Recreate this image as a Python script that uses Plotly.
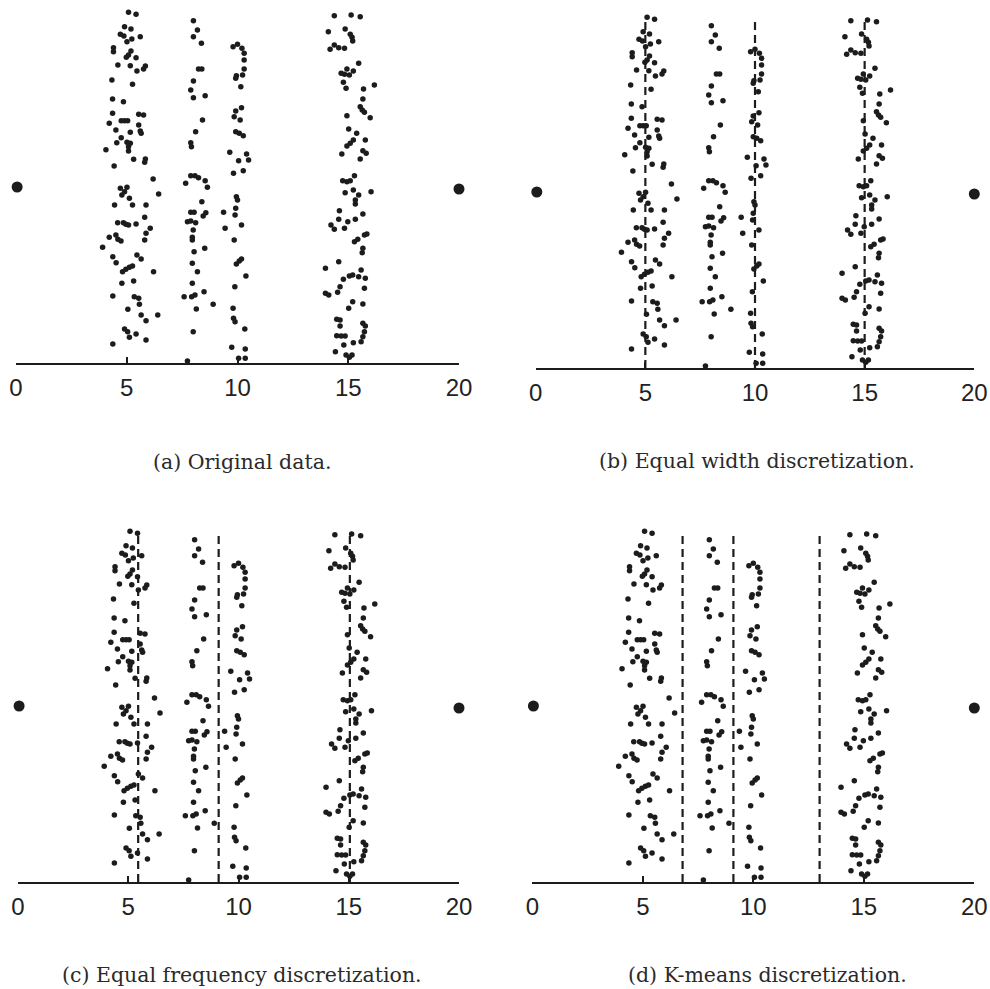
import plotly.graph_objects as go

# ---- data (x in axis units 0..20, y = arbitrary vertical jitter 0..35) ----
c5_x = [5.08,5.42,4.90,5.19,4.71,4.87,5.23,5.61,5.01,4.40,4.40,5.19,5.08,4.98,5.42,4.60,5.16,5.84,5.76,5.46,
        4.33,5.26,4.36,4.85,4.36,5.54,5.76,4.21,4.75,4.90,5.04,5.54,4.51,5.16,5.61,5.65,4.75,4.55,5.01,5.16,
        5.08,5.08,4.06,5.31,5.84,5.81,4.43,6.19,4.71,5.01,4.90,4.78,5.12,6.44,4.45,5.26,5.87,5.81,4.59,4.85,
        4.96,5.08,5.42,6.06,5.87,5.81,4.21,4.51,4.60,4.74,3.91,4.37,4.52,5.46,5.65,4.81,4.96,5.12,5.26,6.21,
        4.78,5.31,4.37,5.34,5.54,5.57,5.05,5.65,5.87,6.40,4.90,5.04,5.12,5.42,5.87,4.37]
c5_y = [35.07,34.87,33.63,33.40,32.87,32.70,32.40,32.63,32.13,31.53,31.13,31.20,30.80,30.57,30.53,29.80,29.73,29.70,29.40,29.20,
        28.30,27.87,26.40,26.13,24.97,24.87,24.80,23.97,24.23,24.23,24.23,23.80,23.30,23.07,23.20,22.97,22.53,22.03,22.07,21.97,
        21.63,21.20,21.33,20.37,20.40,20.07,19.70,18.40,17.47,17.57,17.13,16.80,16.47,16.90,15.80,15.80,15.80,14.57,14.03,14.03,
        13.87,13.80,13.90,13.47,12.97,12.30,12.57,12.80,12.37,12.20,11.57,10.63,10.03,10.80,10.40,9.13,9.37,9.57,9.70,9.13,
        7.97,8.20,6.70,6.63,6.47,5.87,5.37,4.80,4.23,4.80,3.40,3.13,2.57,2.90,2.30,1.90]

c8_x = [8.01,8.19,8.01,8.37,8.24,8.39,8.01,7.89,8.01,8.54,8.42,8.11,7.89,7.92,7.89,8.08,8.24,8.54,7.66,8.64,
        8.39,7.89,8.04,8.57,8.45,7.74,7.89,8.11,8.00,7.96,7.96,8.04,8.52,7.96,8.19,7.96,7.59,7.93,8.08,8.49,
        8.14,8.90,8.00,7.74]
c8_y = [34.23,33.30,32.63,31.97,29.40,29.40,28.20,27.30,26.53,26.73,24.30,23.13,22.03,21.63,18.73,18.73,18.53,18.23,17.97,17.57,
        16.13,15.07,15.07,15.03,14.70,14.13,14.20,14.03,13.30,12.57,12.30,11.13,11.47,9.97,9.13,7.97,6.63,6.63,6.80,7.13,
        5.40,5.87,3.13,0.20]

c10_x = [9.80,10.00,10.20,10.30,10.30,10.30,10.23,9.95,9.92,10.15,10.18,9.92,9.85,10.12,9.92,10.08,10.26,9.65,10.05,10.41,
         10.50,9.82,10.26,9.95,10.00,9.92,9.89,9.37,10.18,9.44,9.85,9.95,10.08,10.18,10.38,9.88,9.80,9.82,9.89,10.33,
         9.74,10.35,10.05,10.35]
c10_y = [31.63,31.87,31.47,30.97,30.30,29.40,28.80,28.73,28.47,27.63,25.53,25.20,24.63,24.30,23.13,22.97,22.73,21.07,20.23,20.90,
         20.30,18.97,19.23,16.63,16.30,15.47,14.80,15.07,13.80,13.47,12.30,9.90,10.20,10.40,8.70,7.63,5.47,4.47,4.13,3.40,
         1.57,1.40,0.47,0.47]

c15_x = [14.37,15.13,15.54,14.10,14.86,15.09,15.17,15.20,14.18,14.37,14.57,14.83,15.47,14.68,14.83,14.94,15.05,15.23,14.78,14.90,
         15.69,16.18,15.66,15.54,15.63,15.73,15.99,14.94,15.02,15.38,15.23,15.09,14.94,15.77,14.71,15.66,15.81,15.54,15.28,14.75,
         14.94,15.09,14.86,15.23,15.47,16.03,15.32,15.32,14.60,14.57,14.98,15.32,15.66,14.22,14.37,14.83,15.28,15.43,15.73,15.84,
         15.66,15.63,14.57,13.97,14.78,15.05,15.20,15.47,15.58,15.77,14.63,14.52,13.97,14.12,15.73,15.20,15.02,15.66,14.48,14.63,
         14.63,15.66,15.77,15.73,15.66,15.58,14.48,14.68,14.86,14.80,15.23,14.42,14.90,15.17,15.05]
c15_y = [34.73,34.80,34.63,33.13,33.40,32.87,32.57,32.20,31.37,31.80,31.53,31.47,29.97,28.97,28.87,29.40,28.80,29.20,28.07,27.47,
         27.40,27.80,26.40,25.63,25.30,25.07,24.53,24.73,23.40,22.97,22.30,21.97,21.70,22.30,20.90,21.23,20.97,20.40,18.73,18.23,
         18.13,18.23,17.03,17.30,16.80,17.13,16.30,15.90,15.23,14.37,14.13,14.37,14.90,13.80,13.37,13.47,12.13,12.37,12.80,12.90,
         11.47,11.03,10.13,9.47,8.37,8.70,8.80,8.63,9.30,8.47,7.63,7.07,6.97,6.80,7.47,6.13,5.47,5.90,4.37,4.30,
         3.70,3.97,3.70,3.13,2.63,2.13,2.73,2.70,2.70,1.80,2.03,1.13,0.80,0.80,0.57]

outlier_x = [0.05, 20.0]
outlier_y = [17.6, 17.4]

bounds_width = [5.0, 10.0, 15.0]
bounds_freq = [5.45, 9.1, 15.05]
bounds_kmeans = [6.8, 9.1, 13.0]

captions = ["(a) Original data.", "(b) Equal width discretization.",
            "(c) Equal frequency discretization.", "(d) K-means discretization."]
tick_vals = [0, 5, 10, 15, 20]
tick_text = ["0", "5", "10", "15", "20"]
y_top = 35.3

pts_x = c5_x + c8_x + c10_x + c15_x
pts_y = c5_y + c8_y + c10_y + c15_y

W, H = 990, 989
# panel pixel boxes: (x0 px, x20 px, axis py, top py)
panels = [(16, 459, 363, 10), (535.7, 974.3, 368, 15), (18, 459, 882, 529), (532.3, 974.3, 882, 529)]
bounds = [None, bounds_width, bounds_freq, bounds_kmeans]
cap_pos = [(242, 462), (757, 461), (242, 975), (767, 975)]

ink = "#1c1c1c"
fig = go.Figure()
layout = dict(width=W, height=H, margin=dict(l=0, r=0, t=0, b=0), autosize=False,
              paper_bgcolor="white", plot_bgcolor="white", showlegend=False)
annotations = []
for i, (x0, x1, ya, yt) in enumerate(panels):
    n = "" if i == 0 else str(i + 1)
    xa, yaname = "x" + n, "y" + n
    layout["xaxis" + n] = dict(domain=[x0 / W, x1 / W], range=[0, 20], anchor=yaname, automargin=False,
                               showgrid=False, zeroline=False, showline=True, linecolor=ink, linewidth=1.5,
                               ticks="inside", ticklen=6, tickwidth=1.5, tickcolor=ink,
                               tickvals=tick_vals, ticktext=tick_text, ticklabelstandoff=2,
                               tickfont=dict(family="Liberation Sans, Arial", size=24, color="#222"))
    layout["yaxis" + n] = dict(domain=[1 - ya / H, 1 - yt / H], range=[0, y_top], anchor=xa,
                               visible=False, showgrid=False, zeroline=False, automargin=False)
    if bounds[i] is not None:
        for b in bounds[i]:
            fig.add_trace(go.Scatter(x=[b, b], y=[0, y_top * 0.99], mode="lines", xaxis=xa, yaxis=yaname,
                                     line=dict(color=ink, width=2.2, dash="8px,5px"), hoverinfo="skip",
                                     cliponaxis=False))
    fig.add_trace(go.Scatter(x=pts_x, y=pts_y, mode="markers", xaxis=xa, yaxis=yaname,
                             marker=dict(size=5.5, color=ink), cliponaxis=False))
    fig.add_trace(go.Scatter(x=outlier_x, y=outlier_y, mode="markers", xaxis=xa, yaxis=yaname,
                             marker=dict(size=11, color=ink), cliponaxis=False))
    cx, cy = cap_pos[i]
    annotations.append(dict(text=captions[i], x=cx / W, y=1 - cy / H, xref="paper", yref="paper",
                            showarrow=False, xanchor="center", yanchor="middle",
                            font=dict(family="DejaVu Serif", size=20.5, color="#2a2a2a")))
layout["annotations"] = annotations
fig.update_layout(**layout)
fig.write_html("out.html",
               config={"displayModeBar": False, "responsive": False},
               post_script="document.body.style.margin='0';document.body.style.overflow='hidden';"
                           "Plotly.relayout('{plot_id}', {width: 990, height: 989});")
